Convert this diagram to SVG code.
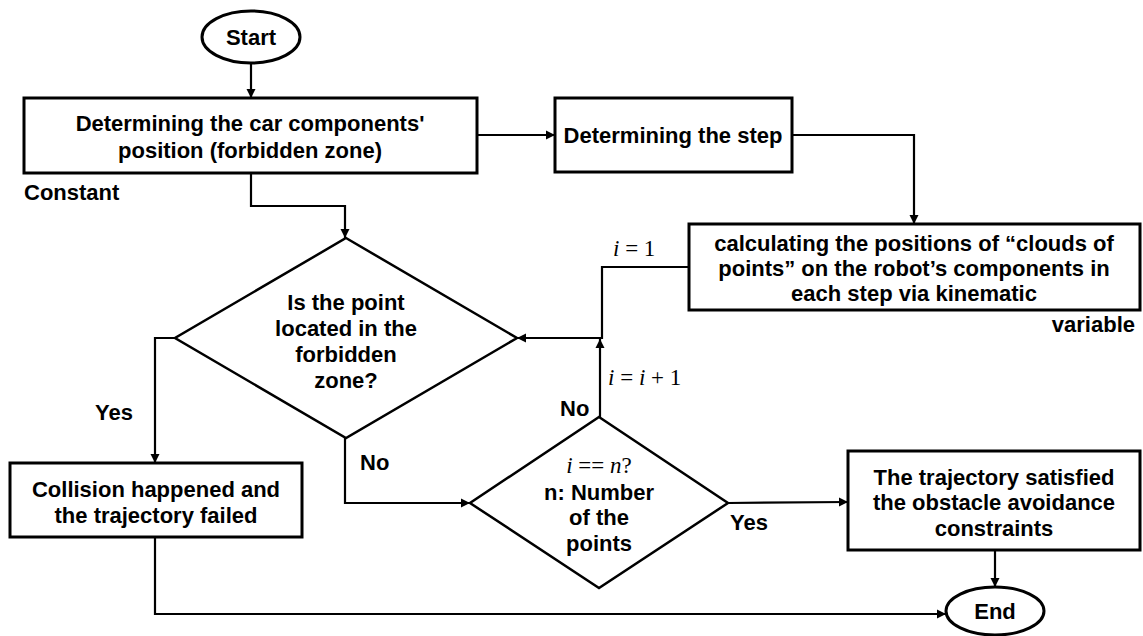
<svg xmlns="http://www.w3.org/2000/svg" width="1143" height="636" viewBox="0 0 1143 636">
  <defs>
    <style>
      .shape { fill: #ffffff; stroke: #000000; stroke-width: 3; }
      .dia { fill: #ffffff; stroke: #000000; stroke-width: 2.5; stroke-linejoin: miter; }
      .link { fill: none; stroke: #000000; stroke-width: 2.2; }
      .txt { font-family: "Liberation Sans", Arial, sans-serif; font-weight: bold; font-size: 22px; fill: #000000; text-anchor: middle; }
      .lbl { font-family: "Liberation Sans", Arial, sans-serif; font-weight: bold; font-size: 22px; fill: #000000; }
      .math { font-family: "Liberation Serif", "DejaVu Serif", serif; font-size: 23px; fill: #000000; }
      .it { font-style: italic; }
    </style>
    <marker id="arrow" viewBox="0 0 10 10" refX="10" refY="5" markerWidth="4.2" markerHeight="4.2" orient="auto" markerUnits="strokeWidth">
      <path d="M0,0 L10,5 L0,10 z" fill="#000000"/>
    </marker>
  </defs>
  <rect width="1143" height="636" fill="#ffffff"/>

  <!-- connectors -->
  <g id="connectors">
    <path class="link" d="M251,63 L251,98" marker-end="url(#arrow)"/>
    <path class="link" d="M477,135 L555,135" marker-end="url(#arrow)"/>
    <path class="link" d="M251,173 L251,206 L345,206 L345,238" marker-end="url(#arrow)"/>
    <path class="link" d="M792,135 L914,135 L914,224" marker-end="url(#arrow)"/>
    <path class="link" d="M689,267 L602,267 L602,338 L517,338" marker-end="url(#arrow)"/>
    <path class="link" d="M600,417 L600,339" marker-end="url(#arrow)"/>
    <path class="link" d="M175,338 L155,338 L155,463" marker-end="url(#arrow)"/>
    <path class="link" d="M345,438 L345,503 L470,503" marker-end="url(#arrow)"/>
    <path class="link" d="M728,503 L848,502" marker-end="url(#arrow)"/>
    <path class="link" d="M995,550 L995,587" marker-end="url(#arrow)"/>
    <path class="link" d="M155,537 L155,614 L946,614" marker-end="url(#arrow)"/>
  </g>

  <!-- edge labels -->
  <g id="labels">
    <text class="lbl" x="24" y="200">Constant</text>
    <text class="lbl" x="1135" y="332" text-anchor="end">variable</text>
    <text class="lbl" x="95" y="420">Yes</text>
    <text class="lbl" x="360" y="470">No</text>
    <text class="lbl" x="560" y="416">No</text>
    <text class="lbl" x="730" y="530">Yes</text>
    <text class="math" x="613" y="256"><tspan class="it">i</tspan> = 1</text>
    <text class="math" x="608" y="385"><tspan class="it">i</tspan> = <tspan class="it">i</tspan> + 1</text>
  </g>

  <g id="start">
    <ellipse class="shape" cx="251" cy="37" rx="49" ry="26"/>
    <text class="txt" x="251" y="45">Start</text>
  </g>

  <g id="forbidden-zone">
    <rect class="shape" x="24" y="98" width="453" height="75"/>
    <text class="txt" x="250" y="131">Determining the car components'</text>
    <text class="txt" x="250" y="158">position (forbidden zone)</text>
  </g>

  <g id="step">
    <rect class="shape" x="555" y="98" width="237" height="74"/>
    <text class="txt" x="673" y="143">Determining the step</text>
  </g>

  <g id="point-clouds">
    <rect class="shape" x="689" y="224" width="451" height="86"/>
    <text class="txt" x="914" y="251">calculating the positions of “clouds of</text>
    <text class="txt" x="914" y="276">points” on the robot’s components in</text>
    <text class="txt" x="914" y="301">each step via kinematic</text>
  </g>

  <g id="in-zone">
    <polygon class="dia" points="346,238 517,338 346,438 175,338"/>
    <text class="txt" x="346" y="310">Is the point</text>
    <text class="txt" x="346" y="336">located in the</text>
    <text class="txt" x="346" y="362">forbidden</text>
    <text class="txt" x="346" y="388">zone?</text>
  </g>

  <g id="last-point">
    <polygon class="dia" points="599,417 728,503 599,588 470,503"/>
    <text class="math" x="599" y="473" text-anchor="middle"><tspan class="it">i</tspan> == <tspan class="it">n</tspan>?</text>
    <text class="txt" x="599" y="500">n: Number</text>
    <text class="txt" x="599" y="525">of the</text>
    <text class="txt" x="599" y="551">points</text>
  </g>

  <g id="collision">
    <rect class="shape" x="10" y="463" width="292" height="74"/>
    <text class="txt" x="156" y="497">Collision happened and</text>
    <text class="txt" x="156" y="523">the trajectory failed</text>
  </g>

  <g id="satisfied">
    <rect class="shape" x="848" y="451" width="292" height="99"/>
    <text class="txt" x="994" y="485">The trajectory satisfied</text>
    <text class="txt" x="994" y="510">the obstacle avoidance</text>
    <text class="txt" x="994" y="536">constraints</text>
  </g>

  <g id="end">
    <ellipse class="shape" cx="995" cy="611" rx="49" ry="24"/>
    <text class="txt" x="995" y="619">End</text>
  </g>
</svg>
